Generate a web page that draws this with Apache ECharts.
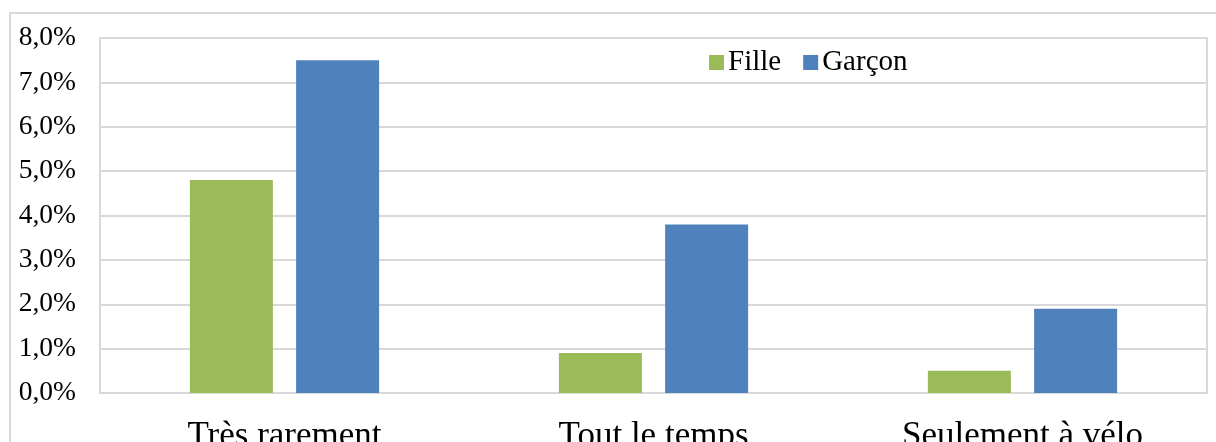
<!DOCTYPE html>
<html>
<head>
<meta charset="utf-8">
<script src="https://cdn.jsdelivr.net/npm/echarts@6/dist/echarts.min.js"></script>
<style>
html,body{margin:0;padding:0;background:#fff;overflow:hidden;}
#c{width:1216px;height:442px;}
</style>
</head>
<body>
<div id="c"></div>
<script>
const categories = ['Très rarement', 'Tout le temps', 'Seulement à vélo'];
const seriesNames = ['Fille', 'Garçon'];
const filleValues = [4.8, 0.9, 0.5];
const garconValues = [7.5, 3.8, 1.9];
const yTicks = [0, 1, 2, 3, 4, 5, 6, 7, 8];

const FONT = 'Liberation Serif';
const chart = echarts.init(document.getElementById('c'), null, {renderer: 'canvas', width: 1216, height: 442});
chart.setOption({
  animation: false,
  backgroundColor: '#fff',
  graphic: [{
    type: 'rect', silent: true, z: -10,
    shape: {x: 10, y: 13, width: 1300, height: 600},
    style: {fill: 'none', stroke: '#d9d9d9', lineWidth: 2}
  }],
  legend: {
    data: seriesNames,
    left: 704, top: 43,
    itemWidth: 15, itemHeight: 15, itemGap: 22,
    icon: 'rect',
    textStyle: {fontFamily: FONT, fontSize: 29, color: '#000', padding: [0, 0, 0, -1]}
  },
  grid: {
    left: 100, top: 38, right: 9, bottom: 49,
    show: true, borderColor: '#d9d9d9', borderWidth: 2,
    containLabel: false,
    outerBoundsMode: 'none'
  },
  xAxis: {
    type: 'category',
    data: categories,
    axisLine: {show: false},
    axisTick: {show: false},
    axisLabel: {fontFamily: FONT, fontSize: 35, color: '#000', margin: 26}
  },
  yAxis: {
    type: 'value',
    min: yTicks[0], max: yTicks[yTicks.length - 1], interval: 1,
    axisLine: {show: false},
    axisTick: {show: false},
    splitLine: {lineStyle: {color: '#d9d9d9', width: 2}},
    axisLabel: {
      fontFamily: FONT, fontSize: 27.5, color: '#000', margin: 24,
      formatter: v => v.toFixed(1).replace('.', ',') + '%'
    }
  },
  series: [
    {name: seriesNames[0], type: 'bar', data: filleValues, barWidth: 83, barGap: '28%',
     itemStyle: {color: '#9BBB59'}},
    {name: seriesNames[1], type: 'bar', data: garconValues, barWidth: 83, barGap: '28%',
     itemStyle: {color: '#4F81BD'}}
  ]
});
</script>
</body>
</html>
